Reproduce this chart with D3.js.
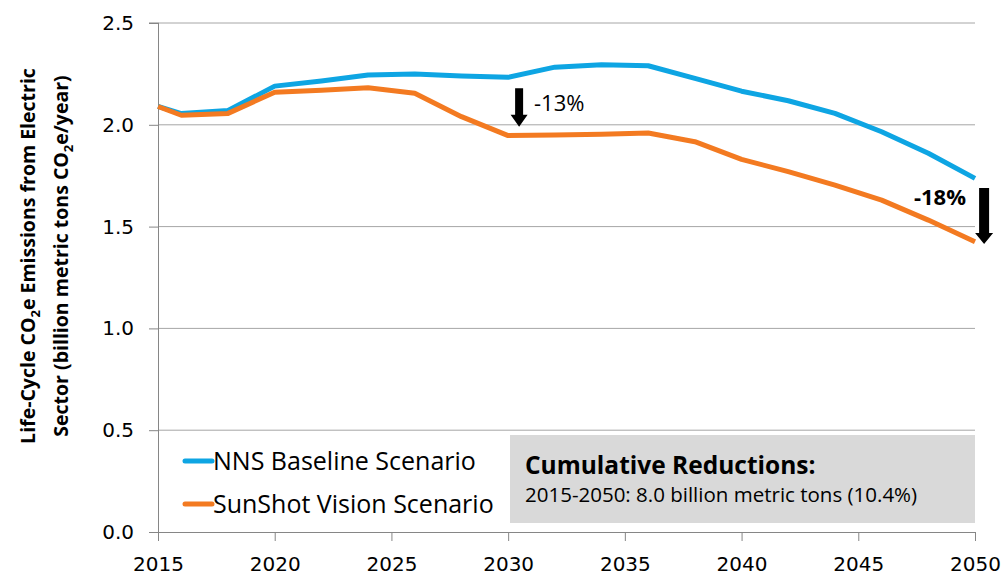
<!DOCTYPE html>
<html>
<head>
<meta charset="utf-8">
<script src="https://cdn.jsdelivr.net/npm/d3@7"></script>
<style>
  html, body { margin: 0; padding: 0; background: #fff; }
  svg { display: block; }
</style>
</head>
<body>
<svg id="chart" width="1005" height="577"></svg>
<script>
// ---- data ----
const years = [2015, 2016, 2018, 2020, 2022, 2024, 2026, 2028, 2030, 2032, 2034, 2036, 2038, 2040, 2042, 2044, 2046, 2048, 2050];
const baseline = [2.09, 2.055, 2.07, 2.19, 2.215, 2.245, 2.25, 2.24, 2.233, 2.283, 2.295, 2.29, 2.228, 2.165, 2.118, 2.056, 1.966, 1.86, 1.737];
const sunshot  = [2.09, 2.047, 2.056, 2.16, 2.17, 2.182, 2.155, 2.04, 1.947, 1.95, 1.953, 1.96, 1.917, 1.83, 1.77, 1.704, 1.63, 1.532, 1.426];
const seriesNames = ["NNS Baseline Scenario", "SunShot Vision Scenario"];
const xTicks = [2015, 2020, 2025, 2030, 2035, 2040, 2045, 2050];
const yTicks = [0.0, 0.5, 1.0, 1.5, 2.0, 2.5];
const reductionLabels = ["-13%", "-18%"];
const boxTitle = "Cumulative Reductions:";
const boxText = "2015-2050: 8.0 billion metric tons (10.4%)";

// ---- layout ----
const svg = d3.select("#chart");
const colors = ["#0ea5e3", "#f37a21"];
const font = "'Open Sans', sans-serif";
const x = d3.scaleLinear().domain([2015, 2050]).range([158, 975]);
const y = d3.scaleLinear().domain([0, 2.5]).range([532, 23]);

// gridlines
svg.append("g").selectAll("line").data(yTicks.filter(d => d > 0)).join("line")
  .attr("x1", x(2015)).attr("x2", x(2050))
  .attr("y1", d => y(d)).attr("y2", d => y(d))
  .attr("stroke", "#a6a6a6").attr("stroke-width", 1);

// y axis
const yAxis = d3.axisLeft(y).tickValues(yTicks).tickFormat(d3.format(".1f")).tickSize(9).tickPadding(15);
const yg = svg.append("g").attr("transform", `translate(${x(2015)},0)`).call(yAxis);
yg.select(".domain").attr("stroke", "#868686").attr("d", `M-9,${y(2.5)}H0.5V${y(0)+9}`);
yg.selectAll(".tick line").attr("stroke", "#868686");
yg.selectAll(".tick text").attr("font-family", "DejaVu Sans").attr("font-size", 20).attr("fill", "#000");

// x axis
const xAxis = d3.axisBottom(x).tickValues(xTicks).tickFormat(d3.format("d")).tickSize(9).tickPadding(16);
const xg = svg.append("g").attr("transform", `translate(0,${y(0)})`).call(xAxis);
xg.select(".domain").attr("stroke", "#868686").attr("d", `M${x(2015)},0.5H${x(2050)}`);
xg.selectAll(".tick line").attr("stroke", "#868686");
xg.selectAll(".tick text").attr("font-family", "DejaVu Sans").attr("font-size", 20).attr("fill", "#000");

// lines
const line = d3.line().x((d, i) => x(years[i])).y(d => y(d));
[baseline, sunshot].forEach((s, i) => {
  svg.append("path").datum(s).attr("d", line)
    .attr("fill", "none").attr("stroke", colors[i]).attr("stroke-width", 5)
    .attr("stroke-linejoin", "round");
});

// reduction arrows
function arrow(xc, y0, y1, shaftW, headW, headL) {
  const hs = shaftW / 2, hh = headW / 2;
  return `M${xc-hs},${y0}H${xc+hs}V${y1-headL}H${xc+hh}L${xc},${y1}L${xc-hh},${y1-headL}H${xc-hs}Z`;
}
const arrows = [
  {yr: 2030.47, from: 2.18, to: 1.99, sw: 8, hw: 17, hl: 12},
  {yr: 2050.39, from: 1.69, to: 1.415, sw: 10, hw: 18, hl: 11}
];
arrows.forEach(a => {
  svg.append("path").attr("d", arrow(x(a.yr), y(a.from), y(a.to), a.sw, a.hw, a.hl)).attr("fill", "#000");
});
svg.append("text").attr("x", 534).attr("y", 111).attr("font-family", font).attr("font-size", 22)
  .attr("fill", "#000").text(reductionLabels[0]);
svg.append("text").attr("x", 966).attr("y", 205).attr("text-anchor", "end").attr("font-family", font)
  .attr("font-weight", "bold").attr("font-size", 22).attr("fill", "#000").text(reductionLabels[1]);

// legend
const legY = [461, 504];
seriesNames.forEach((n, i) => {
  svg.append("line").attr("x1", 185).attr("x2", 212).attr("y1", legY[i]).attr("y2", legY[i])
    .attr("stroke", colors[i]).attr("stroke-width", 5).attr("stroke-linecap", "round");
  svg.append("text").attr("x", 213).attr("y", legY[i] + 9).attr("font-family", font)
    .attr("font-size", 25).attr("fill", "#000").text(n);
});

// cumulative box
svg.append("rect").attr("x", 510).attr("y", 435).attr("width", 465).attr("height", 88).attr("fill", "#d9d9d9");
svg.append("text").attr("x", 525).attr("y", 474).attr("font-family", font).attr("font-weight", "bold")
  .attr("font-size", 24.5).attr("fill", "#000").text(boxTitle);
svg.append("text").attr("x", 525).attr("y", 502).attr("font-family", font)
  .attr("font-size", 20.5).attr("fill", "#000").text(boxText);

// y axis title
function yTitle(xpos, parts) {
  const t = svg.append("text").attr("transform", `translate(${xpos},256) rotate(-90)`)
    .attr("text-anchor", "middle").attr("font-family", font).attr("font-weight", "bold")
    .attr("font-size", 19.5).attr("fill", "#000");
  t.append("tspan").text(parts[0]);
  t.append("tspan").attr("font-size", 13).attr("dy", 5).text("2");
  t.append("tspan").attr("dy", -5).text(parts[1]);
}
yTitle(35, ["Life-Cycle CO", "e Emissions from Electric"]);
yTitle(68, ["Sector (billion metric tons CO", "e/year)"]);
</script>
</body>
</html>
